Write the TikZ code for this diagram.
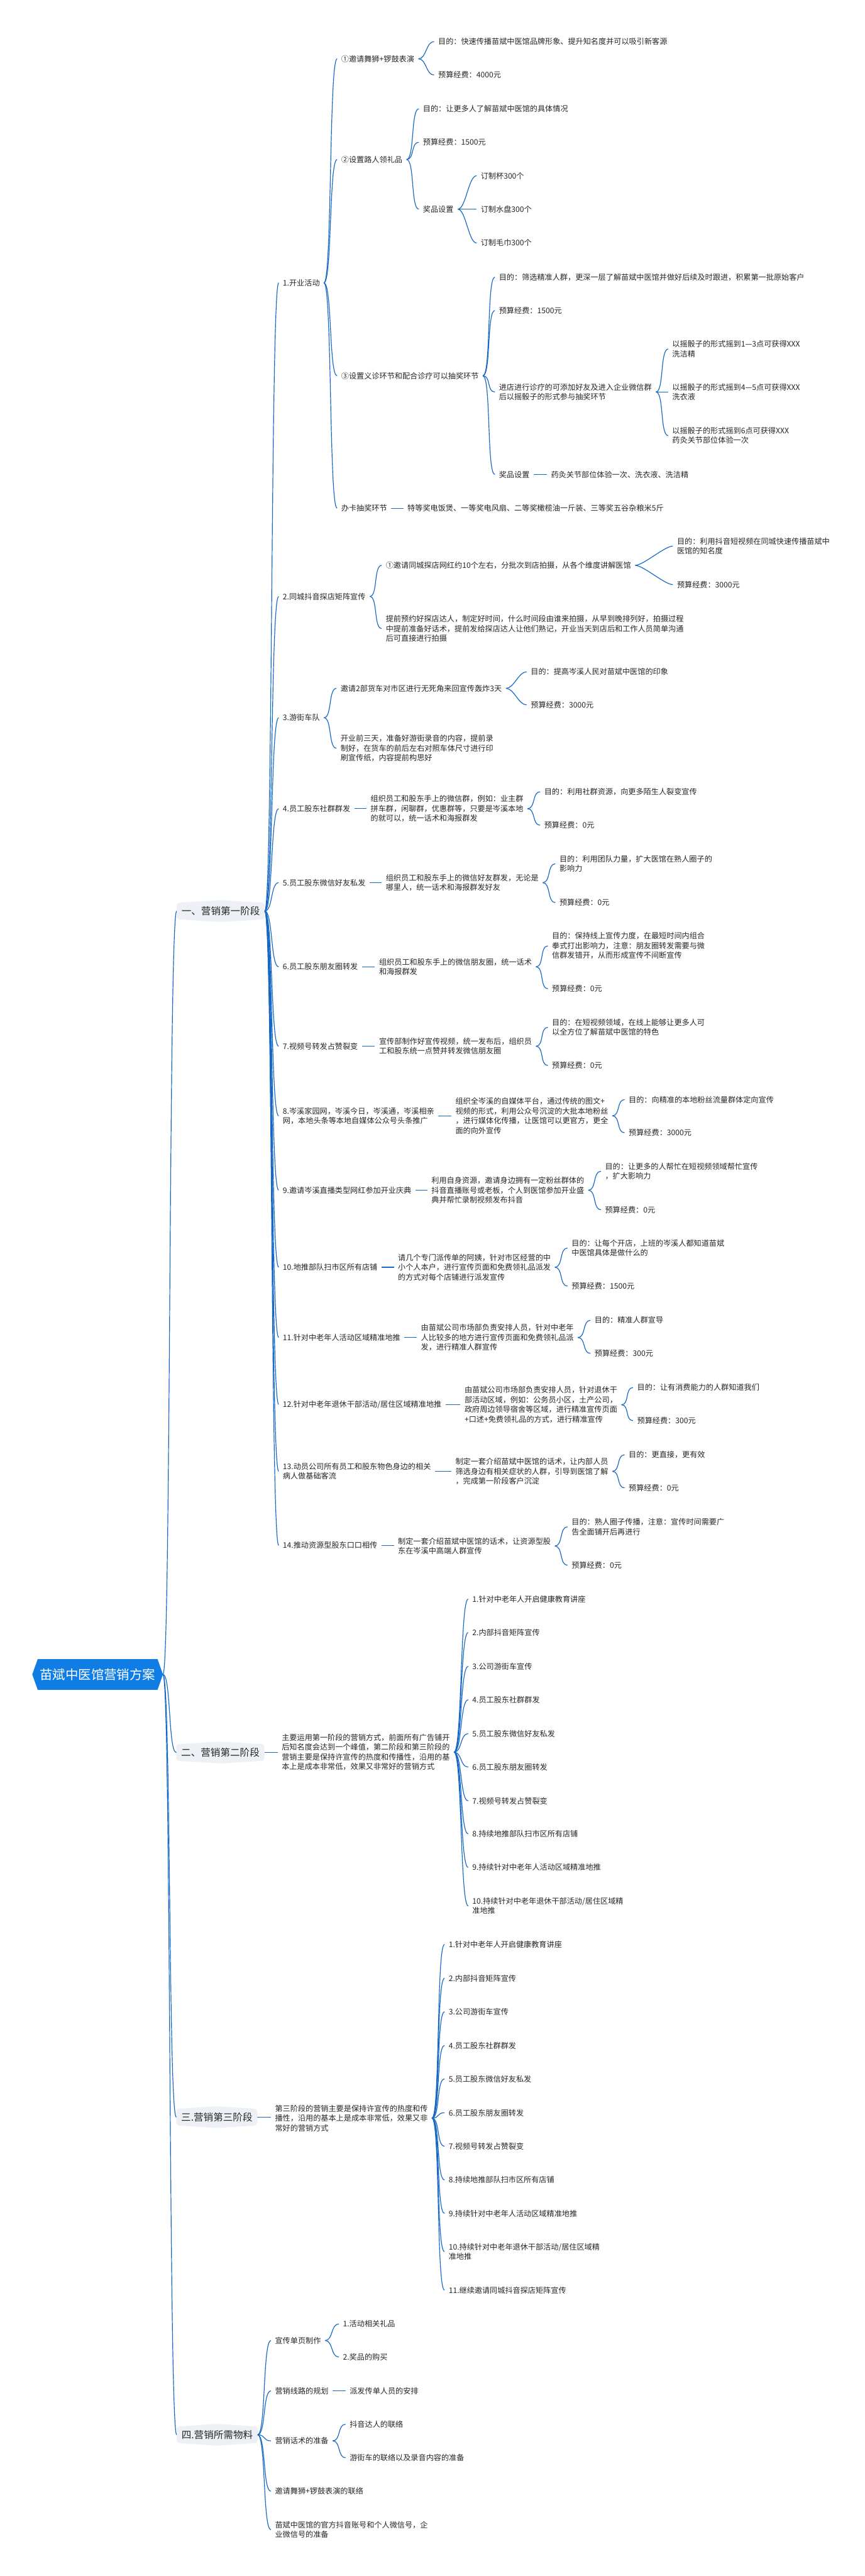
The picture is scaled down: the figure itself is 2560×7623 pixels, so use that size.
\documentclass[tikz,border=0pt]{standalone}
\usepackage{fontspec}
\newfontfamily\cjk{Noto Sans CJK SC}
\usetikzlibrary{backgrounds}
\definecolor{lineblue}{RGB}{22,104,196}
\definecolor{rootblue}{RGB}{16,125,229}
\definecolor{bfill}{RGB}{237,241,245}
\definecolor{txt}{RGB}{38,38,38}
\tikzset{
  leaf/.style={font=\cjk\fontsize{11.3pt}{14.4pt}\selectfont, text=txt, inner xsep=6pt, inner ysep=2pt, anchor=west, align=left},
  branch/.style={font=\cjk\fontsize{14.5pt}{17pt}\selectfont, text=txt, inner xsep=7pt, inner ysep=0pt, minimum height=32pt, anchor=west},
  rootnode/.style={font=\cjk\fontsize{19pt}{22pt}\selectfont, text=white, inner xsep=11pt, inner ysep=0pt, minimum height=45pt},
  conn/.style={draw=lineblue, line width=1.1pt},
}
\newcommand\mmlink[2]{\draw[conn] (#1.east) .. controls ([xshift=12pt]#1.east) and ([xshift=-12pt]#2.west) .. (#2.west);}
\newcommand\mmbar[2]{\draw[conn] (#1.east) -- (#1.east -| #2.west);}
\begin{document}
\begin{tikzpicture}[x=0.5pt,y=-0.5pt]
\useasboundingbox (0,0) rectangle (2560,7623);
% root
\node[rootnode] (R) at (289,4955) {苗斌中医馆营销方案};
% branches
\node[branch] (b1) at (523,2696) {一、营销第一阶段};
\node[branch] (b2) at (522,5186) {二、营销第二阶段};
\node[branch] (b3) at (522,6265) {三.营销第三阶段};
\node[branch] (b4) at (523,7205) {四.营销所需物料};
% ---------- phase 1 ----------
\node[leaf] (p1) at (825,837) {1.开业活动};
\node[leaf] (p2) at (825,1765) {2.同城抖音探店矩阵宣传};
\node[leaf] (p3) at (825,2124) {3.游街车队};
\node[leaf] (p4) at (825,2393) {4.员工股东社群群发};
\node[leaf] (p5) at (825,2612) {5.员工股东微信好友私发};
\node[leaf] (p6) at (825,2861) {6.员工股东朋友圈转发};
\node[leaf] (p7) at (825,3096) {7.视频号转发占赞裂变};
\node[leaf] (p8) at (825,3302) {8.岑溪家园网，岑溪今日，岑溪通，岑溪相亲\\网，本地头条等本地自媒体公众号头条推广};
\node[leaf] (p9) at (825,3522) {9.邀请岑溪直播类型网红参加开业庆典};
\node[leaf] (p10) at (825,3750) {10.地推部队扫市区所有店铺};
\node[leaf] (p11) at (825,3958) {11.针对中老年人活动区域精准地推};
\node[leaf] (p12) at (825,4156) {12.针对中老年退休干部活动/居住区域精准地推};
\node[leaf] (p13) at (825,4354) {13.动员公司所有员工和股东物色身边的相关\\病人做基础客流};
\node[leaf] (p14) at (825,4573) {14.推动资源型股东口口相传};
% 1
\node[leaf] (a1) at (998,174) {①邀请舞狮+锣鼓表演};
\node[leaf] (a1a) at (1285,123) {目的：快速传播苗斌中医馆品牌形象、提升知名度并可以吸引新客源};
\node[leaf] (a1b) at (1285,222) {预算经费：4000元};
\node[leaf] (a2) at (998,472) {②设置路人领礼品};
\node[leaf] (a2a) at (1240,322) {目的：让更多人了解苗斌中医馆的具体情况};
\node[leaf] (a2b) at (1240,421) {预算经费：1500元};
\node[leaf] (a2c) at (1240,619) {奖品设置};
\node[leaf] (a2c1) at (1411,520) {订制杯300个};
\node[leaf] (a2c2) at (1411,619) {订制水盘300个};
\node[leaf] (a2c3) at (1411,719) {订制毛巾300个};
\node[leaf] (a3) at (998,1112) {③设置义诊环节和配合诊疗可以抽奖环节};
\node[leaf] (a3a) at (1465,820) {目的：筛选精准人群，更深一层了解苗斌中医馆并做好后续及时跟进，积累第一批原始客户};
\node[leaf] (a3b) at (1465,919) {预算经费：1500元};
\node[leaf] (a3c) at (1465,1160) {进店进行诊疗的可添加好友及进入企业微信群\\后以摇骰子的形式参与抽奖环节};
\node[leaf] (a3c1) at (1978,1033) {以摇骰子的形式摇到1—3点可获得XXX\\洗洁精};
\node[leaf] (a3c2) at (1978,1160) {以摇骰子的形式摇到4—5点可获得XXX\\洗衣液};
\node[leaf] (a3c3) at (1978,1289) {以摇骰子的形式摇到6点可获得XXX\\药灸关节部位体验一次};
\node[leaf] (a3d) at (1465,1404) {奖品设置};
\node[leaf] (a3d1) at (1619,1404) {药灸关节部位体验一次、洗衣液、洗洁精};
\node[leaf] (a4) at (998,1504) {办卡抽奖环节};
\node[leaf] (a4a) at (1194,1504) {特等奖电饭煲、一等奖电风扇、二等奖橄榄油一斤装、三等奖五谷杂粮米5斤};
% 2
\node[leaf] (c1) at (1130,1673) {①邀请同城探店网红约10个左右，分批次到店拍摄，从各个维度讲解医馆};
\node[leaf] (c1a) at (1992,1616) {目的：利用抖音短视频在同城快速传播苗斌中\\医馆的知名度};
\node[leaf] (c1b) at (1992,1730) {预算经费：3000元};
\node[leaf] (c2) at (1130,1860) {提前预约好探店达人，制定好时间，什么时间段由谁来拍摄，从早到晚排列好，拍摄过程\\中提前准备好话术，提前发给探店达人让他们熟记，开业当天到店后和工作人员简单沟通\\后可直接进行拍摄};
% 3
\node[leaf] (d1) at (996,2037) {邀请2部货车对市区进行无死角来回宣传轰炸3天};
\node[leaf] (d1a) at (1559,1988) {目的：提高岑溪人民对苗斌中医馆的印象};
\node[leaf] (d1b) at (1559,2086) {预算经费：3000元};
\node[leaf] (d2) at (996,2214) {开业前三天，准备好游街录音的内容，提前录\\制好，在货车的前后左右对照车体尺寸进行印\\刷宣传纸，内容提前构思好};
% 4
\node[leaf] (e1) at (1085,2393) {组织员工和股东手上的微信群，例如：业主群\\拼车群，闲聊群，优惠群等，只要是岑溪本地\\的就可以，统一话术和海报群发};
\node[leaf] (e1a) at (1599,2343) {目的：利用社群资源，向更多陌生人裂变宣传};
\node[leaf] (e1b) at (1599,2442) {预算经费：0元};
% 5
\node[leaf] (f1) at (1130,2612) {组织员工和股东手上的微信好友群发，无论是\\哪里人，统一话术和海报群发好友};
\node[leaf] (f1a) at (1644,2556) {目的：利用团队力量，扩大医馆在熟人圈子的\\影响力};
\node[leaf] (f1b) at (1644,2671) {预算经费：0元};
% 6
\node[leaf] (g1) at (1110,2861) {组织员工和股东手上的微信朋友圈，统一话术\\和海报群发};
\node[leaf] (g1a) at (1622,2799) {目的：保持线上宣传力度，在最短时间内组合\\拳式打出影响力，注意：朋友圈转发需要与微\\信群发错开，从而形成宣传不间断宣传};
\node[leaf] (g1b) at (1622,2926) {预算经费：0元};
% 7
\node[leaf] (h1) at (1110,3096) {宣传部制作好宣传视频，统一发布后，组织员\\工和股东统一点赞并转发微信朋友圈};
\node[leaf] (h1a) at (1622,3040) {目的：在短视频领域，在线上能够让更多人可\\以全方位了解苗斌中医馆的特色};
\node[leaf] (h1b) at (1622,3153) {预算经费：0元};
% 8
\node[leaf] (i1) at (1336,3302) {组织全岑溪的自媒体平台，通过传统的图文+\\视频的形式，利用公众号沉淀的大批本地粉丝\\，进行媒体化传播，让医馆可以更官方，更全\\面的向外宣传};
\node[leaf] (i1a) at (1849,3254) {目的：向精准的本地粉丝流量群体定向宣传};
\node[leaf] (i1b) at (1849,3352) {预算经费：3000元};
% 9
\node[leaf] (j1) at (1265,3522) {利用自身资源，邀请身边拥有一定粉丝群体的\\抖音直播账号或老板，个人到医馆参加开业盛\\典并帮忙录制视频发布抖音};
\node[leaf] (j1a) at (1779,3466) {目的：让更多的人帮忙在短视频领域帮忙宣传\\，扩大影响力};
\node[leaf] (j1b) at (1779,3580) {预算经费：0元};
% 10
\node[leaf] (k1) at (1166,3750) {请几个专门派传单的阿姨，针对市区经营的中\\小个人本户，进行宣传页面和免费领礼品派发\\的方式对每个店铺进行派发宣传};
\node[leaf] (k1a) at (1680,3693) {目的：让每个开店，上班的岑溪人都知道苗斌\\中医馆具体是做什么的};
\node[leaf] (k1b) at (1680,3806) {预算经费：1500元};
% 11
\node[leaf] (l1) at (1234,3958) {由苗斌公司市场部负责安排人员，针对中老年\\人比较多的地方进行宣传页面和免费领礼品派\\发，进行精准人群宣传};
\node[leaf] (l1a) at (1748,3907) {目的：精准人群宣导};
\node[leaf] (l1b) at (1748,4005) {预算经费：300元};
% 12
\node[leaf] (m1) at (1363,4157) {由苗斌公司市场部负责安排人员，针对退休干\\部活动区域，例如：公务员小区，土产公司，\\政府周边领导宿舍等区域，进行精准宣传页面\\+口述+免费领礼品的方式，进行精准宣传};
\node[leaf] (m1a) at (1874,4106) {目的：让有消费能力的人群知道我们};
\node[leaf] (m1b) at (1874,4204) {预算经费：300元};
% 13
\node[leaf] (n1) at (1336,4354) {制定一套介绍苗斌中医馆的话术，让内部人员\\筛选身边有相关症状的人群，引导到医馆了解\\，完成第一阶段客户沉淀};
\node[leaf] (n1a) at (1849,4305) {目的：更直接，更有效};
\node[leaf] (n1b) at (1849,4403) {预算经费：0元};
% 14
\node[leaf] (o1) at (1166,4575) {制定一套介绍苗斌中医馆的话术，让资源型股\\东在岑溪中高端人群宣传};
\node[leaf] (o1a) at (1680,4518) {目的：熟人圈子传播，注意：宣传时间需要广\\告全面铺开后再进行};
\node[leaf] (o1b) at (1680,4632) {预算经费：0元};
% ---------- phase 2 ----------
\node[leaf] (s2) at (822,5185) {主要运用第一阶段的营销方式，前面所有广告铺开\\后知名度会达到一个峰值，第二阶段和第三阶段的\\营销主要是保持许宣传的热度和传播性，沿用的基\\本上是成本非常低，效果又非常好的营销方式};
\node[leaf] (q1) at (1386,4732) {1.针对中老年人开启健康教育讲座};
\node[leaf] (q2) at (1386,4831) {2.内部抖音矩阵宣传};
\node[leaf] (q3) at (1386,4931) {3.公司游街车宣传};
\node[leaf] (q4) at (1386,5030) {4.员工股东社群群发};
\node[leaf] (q5) at (1386,5130) {5.员工股东微信好友私发};
\node[leaf] (q6) at (1386,5229) {6.员工股东朋友圈转发};
\node[leaf] (q7) at (1386,5329) {7.视频号转发占赞裂变};
\node[leaf] (q8) at (1386,5427) {8.持续地推部队扫市区所有店铺};
\node[leaf] (q9) at (1386,5526) {9.持续针对中老年人活动区域精准地推};
\node[leaf] (q10) at (1386,5640) {10.持续针对中老年退休干部活动/居住区域精\\准地推};
% ---------- phase 3 ----------
\node[leaf] (s3) at (802,6268) {第三阶段的营销主要是保持许宣传的热度和传\\播性，沿用的基本上是成本非常低，效果又非\\常好的营销方式};
\node[leaf] (r1) at (1316,5754) {1.针对中老年人开启健康教育讲座};
\node[leaf] (r2) at (1316,5854) {2.内部抖音矩阵宣传};
\node[leaf] (r3) at (1316,5953) {3.公司游街车宣传};
\node[leaf] (r4) at (1316,6053) {4.员工股东社群群发};
\node[leaf] (r5) at (1316,6152) {5.员工股东微信好友私发};
\node[leaf] (r6) at (1316,6252) {6.员工股东朋友圈转发};
\node[leaf] (r7) at (1316,6351) {7.视频号转发占赞裂变};
\node[leaf] (r8) at (1316,6451) {8.持续地推部队扫市区所有店铺};
\node[leaf] (r9) at (1316,6550) {9.持续针对中老年人活动区域精准地推};
\node[leaf] (r10) at (1316,6663) {10.持续针对中老年退休干部活动/居住区域精\\准地推};
\node[leaf] (r11) at (1316,6777) {11.继续邀请同城抖音探店矩阵宣传};
% ---------- phase 4 ----------
\node[leaf] (t1) at (802,6926) {宣传单页制作};
\node[leaf] (t1a) at (1003,6877) {1.活动相关礼品};
\node[leaf] (t1b) at (1003,6975) {2.奖品的购买};
\node[leaf] (t2) at (802,7075) {营销线路的规划};
\node[leaf] (t2a) at (1023,7075) {派发传单人员的安排};
\node[leaf] (t3) at (802,7223) {营销话术的准备};
\node[leaf] (t3a) at (1023,7174) {抖音达人的联络};
\node[leaf] (t3b) at (1023,7273) {游街车的联络以及录音内容的准备};
\node[leaf] (t4) at (802,7372) {邀请舞狮+锣鼓表演的联络};
\node[leaf] (t5) at (802,7486) {苗斌中医馆的官方抖音账号和个人微信号，企\\业微信号的准备};
% ---------- backgrounds ----------
\begin{scope}[on background layer]
\fill[white] (0,0) rectangle (2560,7623);
\fill[rootblue] (R.west) -- ([xshift=8pt]R.north west) -- ([xshift=-8pt]R.north east) -- (R.east) -- ([xshift=-8pt]R.south east) -- ([xshift=8pt]R.south west) -- cycle;
\foreach \b in {b1,b2,b3,b4}{
  \fill[bfill, rounded corners=4pt] ([yshift=-4pt]\b.north west) -- (\b.north) -- ([yshift=-4pt]\b.north east) -- ([yshift=4pt]\b.south east) -- (\b.south) -- ([yshift=4pt]\b.south west) -- cycle;
}
\end{scope}
% ---------- connectors ----------
\foreach \b in {b1,b2,b3,b4}{\mmlink{R}{\b}}
\foreach \p in {p1,p2,p3,p4,p5,p6,p7,p8,p9,p10,p11,p12,p13,p14}{\mmlink{b1}{\p}}
\foreach \c in {a1,a2,a3,a4}{\mmlink{p1}{\c}}
\mmlink{a1}{a1a}\mmlink{a1}{a1b}
\mmlink{a2}{a2a}\mmlink{a2}{a2b}\mmlink{a2}{a2c}
\mmlink{a2c}{a2c1}\mmlink{a2c}{a2c2}\mmlink{a2c}{a2c3}
\mmlink{a3}{a3a}\mmlink{a3}{a3b}\mmlink{a3}{a3c}\mmlink{a3}{a3d}
\mmlink{a3c}{a3c1}\mmlink{a3c}{a3c2}\mmlink{a3c}{a3c3}
\mmbar{a3d}{a3d1}
\mmbar{a4}{a4a}
\mmlink{p2}{c1}\mmlink{p2}{c2}
\mmlink{c1}{c1a}\mmlink{c1}{c1b}
\mmlink{p3}{d1}\mmlink{p3}{d2}
\mmlink{d1}{d1a}\mmlink{d1}{d1b}
\mmbar{p4}{e1}\mmlink{e1}{e1a}\mmlink{e1}{e1b}
\mmbar{p5}{f1}\mmlink{f1}{f1a}\mmlink{f1}{f1b}
\mmbar{p6}{g1}\mmlink{g1}{g1a}\mmlink{g1}{g1b}
\mmbar{p7}{h1}\mmlink{h1}{h1a}\mmlink{h1}{h1b}
\mmbar{p8}{i1}\mmlink{i1}{i1a}\mmlink{i1}{i1b}
\mmbar{p9}{j1}\mmlink{j1}{j1a}\mmlink{j1}{j1b}
\mmbar{p10}{k1}\mmlink{k1}{k1a}\mmlink{k1}{k1b}
\mmbar{p11}{l1}\mmlink{l1}{l1a}\mmlink{l1}{l1b}
\mmbar{p12}{m1}\mmlink{m1}{m1a}\mmlink{m1}{m1b}
\mmbar{p13}{n1}\mmlink{n1}{n1a}\mmlink{n1}{n1b}
\mmbar{p14}{o1}\mmlink{o1}{o1a}\mmlink{o1}{o1b}
\mmbar{b2}{s2}
\foreach \q in {q1,q2,q3,q4,q5,q6,q7,q8,q9,q10}{\mmlink{s2}{\q}}
\mmbar{b3}{s3}
\foreach \r in {r1,r2,r3,r4,r5,r6,r7,r8,r9,r10,r11}{\mmlink{s3}{\r}}
\foreach \t in {t1,t2,t3,t4,t5}{\mmlink{b4}{\t}}
\mmlink{t1}{t1a}\mmlink{t1}{t1b}
\mmbar{t2}{t2a}
\mmlink{t3}{t3a}\mmlink{t3}{t3b}
\end{tikzpicture}
\end{document}
